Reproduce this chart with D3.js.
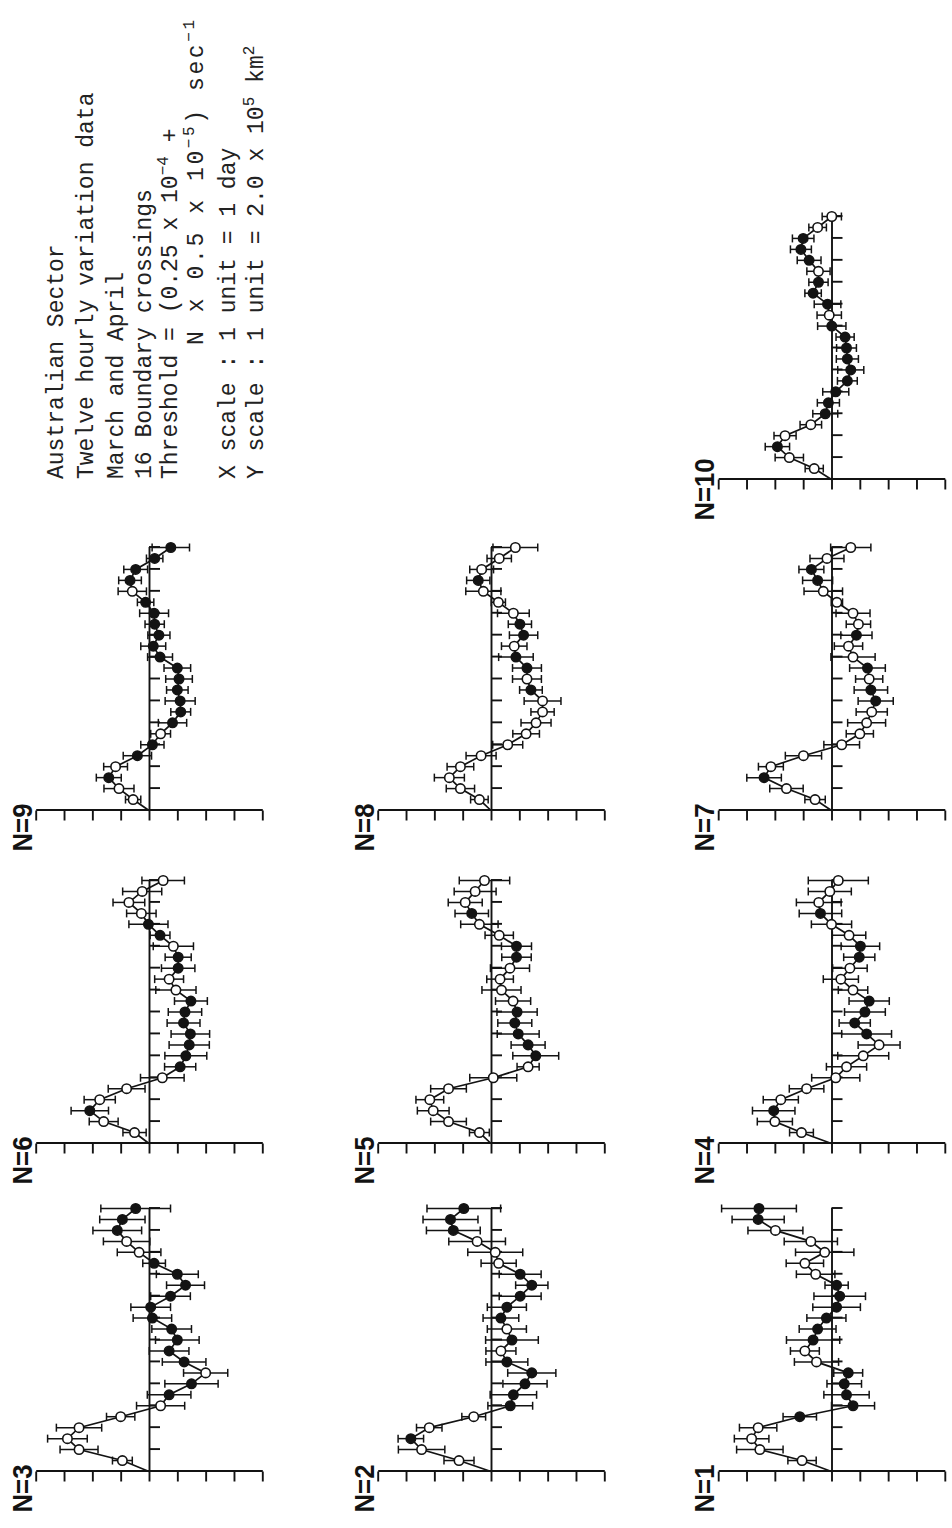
<!DOCTYPE html>
<html>
<head>
<meta charset="utf-8">
<script src="https://cdn.jsdelivr.net/npm/d3@7"></script>
<style>
  body { margin: 0; background: #fff; }
  svg { display: block; }
  text { white-space: pre; }
</style>
</head>
<body>
<svg width="952" height="1528"></svg>
<script>
// boundary crossing number for each panel
const panelN = [1, 2, 3, 4, 5, 6, 7, 8, 9, 10];

// time after crossing, days (12 hourly steps)
const days = [0.5, 1, 1.5, 2, 2.5, 3, 3.5, 4, 4.5, 5, 5.5, 6,
              6.5, 7, 7.5, 8, 8.5, 9, 9.5, 10, 10.5, 11, 11.5, 12];

// values in Y units (1 unit = 2.0 x 10^5 km2)
const n1 = [1.04, 2.53, 2.82, 2.59, 1.12, -0.76, -0.53, -0.45, -0.59, 0.53, 0.94, 0.65, 0.49, 0.18, -0.18, -0.29, -0.18, 0.56, 0.94, 0.24, 0.73, 1.98, 2.59, 2.56];
const n2 = [1.13, 2.45, 2.83, 2.18, 0.61, -0.68, -0.79, -1.2, -1.44, -0.56, -0.35, -0.74, -0.56, -0.35, -0.56, -1.03, -1.44, -1.03, -0.27, -0.15, 0.49, 1.33, 1.43, 0.96];
const n3 = [0.94, 2.47, 2.88, 2.47, 1.0, -0.41, -0.71, -1.5, -2.0, -1.24, -0.71, -1.0, -0.8, -0.12, -0.06, -0.76, -1.29, -1.0, -0.18, 0.35, 0.79, 1.12, 0.94, 0.47];
const n4 = [1.06, 2.0, 2.04, 1.79, 0.88, -0.15, -0.53, -1.12, -1.68, -1.24, -0.82, -1.18, -1.33, -0.76, -0.33, -0.65, -0.98, -1.02, -0.62, 0.0, 0.39, 0.45, 0.06, -0.24];
const n5 = [0.41, 1.5, 2.04, 2.16, 1.5, -0.08, -1.31, -1.58, -1.31, -0.96, -0.84, -0.92, -0.78, -0.37, -0.32, -0.67, -0.9, -0.9, -0.29, 0.41, 0.68, 0.91, 0.56, 0.23];
const n6 = [0.51, 1.6, 2.09, 1.74, 0.79, -0.47, -1.1, -1.3, -1.42, -1.46, -1.22, -1.27, -1.48, -0.95, -0.71, -1.03, -1.03, -0.86, -0.39, 0.02, 0.27, 0.71, 0.24, -0.5];
const n7 = [0.58, 1.59, 2.38, 2.14, 0.99, -0.36, -1.0, -1.24, -1.42, -1.56, -1.39, -1.33, -1.27, -0.76, -0.6, -0.88, -0.95, -0.76, -0.19, 0.29, 0.49, 0.71, 0.16, -0.68];
const n8 = [0.41, 1.08, 1.47, 1.08, 0.35, -0.59, -1.24, -1.59, -1.82, -1.82, -1.41, -1.27, -1.27, -0.88, -0.82, -1.15, -1.02, -0.79, -0.26, 0.27, 0.45, 0.33, -0.29, -0.86];
const n9 = [0.56, 1.06, 1.42, 1.18, 0.41, -0.12, -0.41, -0.83, -1.12, -1.1, -1.0, -1.06, -1.0, -0.39, -0.15, -0.35, -0.2, -0.18, 0.12, 0.59, 0.67, 0.47, -0.2, -0.77];
const n10 = [0.61, 1.49, 1.91, 1.64, 0.73, 0.22, 0.11, -0.15, -0.56, -0.68, -0.56, -0.53, -0.48, -0.01, 0.08, 0.14, 0.65, 0.46, 0.46, 0.79, 1.08, 1.0, 0.49, -0.01];

// error bar half widths, same units
const e1 = [0.5, 0.82, 0.61, 0.66, 0.59, 0.76, 0.8, 0.61, 0.51, 0.78, 0.51, 0.94, 0.65, 0.69, 0.84, 0.91, 0.41, 0.68, 0.66, 1.03, 0.94, 0.97, 0.92, 1.32];
const e2 = [0.53, 0.82, 0.45, 0.45, 0.42, 0.79, 0.82, 0.78, 0.85, 0.74, 0.53, 0.93, 0.69, 0.63, 0.69, 0.74, 0.57, 0.74, 0.62, 0.97, 1.0, 0.95, 0.97, 1.3];
const e3 = [0.35, 0.67, 0.7, 0.8, 0.5, 0.85, 0.77, 0.94, 0.78, 0.77, 0.7, 0.77, 0.7, 0.68, 0.7, 0.7, 0.67, 0.74, 0.4, 0.77, 0.82, 0.86, 0.8, 1.23];
const e4 = [0.42, 0.62, 0.75, 0.62, 0.61, 0.85, 0.71, 0.9, 0.74, 0.88, 0.55, 0.72, 0.71, 0.52, 0.62, 0.61, 0.55, 0.68, 0.59, 0.71, 0.75, 0.79, 0.76, 1.06];
const e5 = [0.35, 0.63, 0.56, 0.49, 0.63, 0.83, 0.39, 0.81, 0.6, 0.74, 0.6, 0.71, 0.62, 0.69, 0.47, 0.69, 0.52, 0.53, 0.5, 0.66, 0.59, 0.6, 0.74, 0.89];
const e6 = [0.41, 0.51, 0.66, 0.55, 0.65, 0.77, 0.55, 0.74, 0.71, 0.68, 0.58, 0.59, 0.58, 0.71, 0.51, 0.59, 0.46, 0.71, 0.35, 0.69, 0.52, 0.56, 0.69, 0.75];
const e7 = [0.36, 0.59, 0.61, 0.44, 0.64, 0.63, 0.48, 0.67, 0.55, 0.62, 0.59, 0.48, 0.63, 0.78, 0.5, 0.55, 0.43, 0.6, 0.2, 0.68, 0.53, 0.44, 0.6, 0.71];
const e8 = [0.31, 0.5, 0.53, 0.47, 0.53, 0.53, 0.47, 0.53, 0.41, 0.65, 0.4, 0.51, 0.51, 0.61, 0.45, 0.5, 0.41, 0.56, 0.25, 0.62, 0.41, 0.42, 0.43, 0.79];
const e9 = [0.27, 0.53, 0.44, 0.42, 0.5, 0.41, 0.35, 0.5, 0.35, 0.53, 0.38, 0.47, 0.47, 0.44, 0.44, 0.39, 0.34, 0.51, 0.29, 0.5, 0.4, 0.42, 0.29, 0.66];
const e10 = [0.32, 0.5, 0.43, 0.39, 0.38, 0.44, 0.39, 0.46, 0.35, 0.46, 0.39, 0.35, 0.32, 0.5, 0.43, 0.47, 0.29, 0.34, 0.41, 0.42, 0.37, 0.38, 0.31, 0.34];

// marker type per point: o = open circle, f = filled circle
const m1 = 'oooofffffooffffffoooooff';
const m2 = 'oofoofffffofofffffooofff';
const m3 = 'ooooooffoffffffffffoofff';
const m4 = 'oofooooooffffoooffoofooo';
const m5 = 'ooooooofffffooooffoofooo';
const m6 = 'oofooofffffffooffoffoooo';
const m7 = 'oofooooooffofoofooooffoo';
const m8 = 'oooooooooofoffoffooofooo';
const m9 = 'oofoffoffffffffffffoffff';
const m10 = 'oofoofffffffffofffofffoo';

const dayTicks = [1, 2, 3, 4, 5, 6, 7, 8, 9, 10, 11, 12];
const unitTicks = [-4, -3, -2, -1, 0, 1, 2, 3, 4];

const infoLines = [
  [['Australian Sector', 0]],
  [['Twelve hourly variation data', 0]],
  [['March and April', 0]],
  [['16 Boundary crossings', 0]],
  [['Threshold = (0.25 x 10', 0], ['\u22124', 1], [' +', 0]],
  [['N x 0.5 x 10', 0], ['\u22125', 1], [') sec', 0], ['\u22121', 1]],
  [['X scale : 1 unit = 1 day', 0]],
  [['Y scale : 1 unit = 2.0 x 10', 0], ['5', 1], [' km', 0], ['2', 1]]
];

// panel placement (page is drawn rotated, so col = image x, row = image y of the axis)
const colX = [149, 491, 831.5];
const rowY = [479.5, 810.5, 1143.5, 1471.5];
const panelCol = [2, 1, 0, 2, 1, 0, 2, 1, 0, 2];
const panelRow = [3, 3, 3, 2, 2, 2, 1, 1, 1, 0];

const valueSets = [n1, n2, n3, n4, n5, n6, n7, n8, n9, n10];
const errSets = [e1, e2, e3, e4, e5, e6, e7, e8, e9, e10];
const markSets = [m1, m2, m3, m4, m5, m6, m7, m8, m9, m10];

const ink = '#131313';
const W = 952, H = 1528;

const svg = d3.select('svg');
svg.append('rect').attr('width', W).attr('height', H).attr('fill', '#fff');

// whole figure is printed sideways
const page = svg.append('g').attr('transform', `translate(0,${H}) rotate(-90)`);

const x = d3.scaleLinear().domain([0, 12]).range([0, 263]);
const y = d3.scaleLinear().domain([-4, 4]).range([113.3, -113.3]);

const line = d3.line().x(d => x(d.t)).y(d => y(d.v));

panelN.forEach((n, k) => {
  const vals = valueSets[k], errs = errSets[k], marks = markSets[k];
  const pts = [{ t: 0, v: 0, e: 0, m: '' }].concat(days.map((t, i) => ({ t: t, v: vals[i], e: errs[i], m: marks[i] })));

  const g = page.append('g')
    .attr('transform', `translate(${H - rowY[panelRow[k]]},${colX[panelCol[k]]})`);

  // value axis
  const ya = g.append('g')
    .call(d3.axisLeft(y).tickValues(unitTicks).tickSize(10).tickSizeOuter(0).tickFormat(''));
  // time axis along zero
  const xa = g.append('g')
    .attr('transform', `translate(0,${y(0)})`)
    .call(d3.axisBottom(x).tickValues(dayTicks).tickSize(11).tickSizeOuter(0).tickFormat(''));
  [ya, xa].forEach(a => {
    a.selectAll('path,line').attr('stroke', ink).attr('stroke-width', 1.9);
    a.selectAll('text').remove();
  });

  // error bars
  const eb = g.append('g').attr('stroke', ink).attr('stroke-width', 1.5);
  pts.slice(1).forEach(d => {
    const cx = x(d.t);
    eb.append('line').attr('x1', cx).attr('x2', cx).attr('y1', y(d.v - d.e)).attr('y2', y(d.v + d.e));
    eb.append('line').attr('x1', cx - 4).attr('x2', cx + 4).attr('y1', y(d.v - d.e)).attr('y2', y(d.v - d.e));
    eb.append('line').attr('x1', cx - 4).attr('x2', cx + 4).attr('y1', y(d.v + d.e)).attr('y2', y(d.v + d.e));
  });

  g.append('path').datum(pts)
    .attr('d', line)
    .attr('fill', 'none')
    .attr('stroke', ink)
    .attr('stroke-width', 1.7);

  g.selectAll('circle').data(pts.slice(1)).enter()
    .append('circle')
    .attr('cx', d => x(d.t))
    .attr('cy', d => y(d.v))
    .attr('r', 4.7)
    .attr('fill', d => d.m === 'f' ? ink : '#fff')
    .attr('stroke', ink)
    .attr('stroke-width', 1.6);

  const label = 'N=' + n;
  g.append('text')
    .attr('x', -41)
    .attr('y', y(4) - 4)
    .attr('font-family', 'Liberation Sans, Arial, sans-serif')
    .attr('font-weight', 700)
    .attr('font-size', 27)
    .attr('textLength', label.length === 3 ? 48 : 62)
    .attr('lengthAdjust', 'spacingAndGlyphs')
    .attr('fill', ink)
    .text(label);
});

// caption block
const lineStart = [1049, 1049, 1049, 1049, 1049, 1183, 1049, 1049];
const lineBase = [63, 93, 123, 151, 177, 203, 235, 263];
const lineLen = [0, 0, 0, 0, 0, 325, 0, 0];
infoLines.forEach((segs, i) => {
  const t = page.append('text')
    .attr('x', lineStart[i])
    .attr('y', lineBase[i])
    .attr('font-family', 'Liberation Mono, Courier New, monospace')
    .attr('font-size', 23)
    .attr('fill', '#222');
  if (lineLen[i]) t.attr('textLength', lineLen[i]).attr('lengthAdjust', 'spacing');
  let up = false;
  segs.forEach(s => {
    const sp = t.append('tspan').text(s[0]);
    if (s[1] && !up) { sp.attr('dy', -9).attr('font-size', 16); up = true; }
    else if (s[1]) { sp.attr('font-size', 16); }
    else if (up) { sp.attr('dy', 9); up = false; }
  });
});
</script>
</body>
</html>
